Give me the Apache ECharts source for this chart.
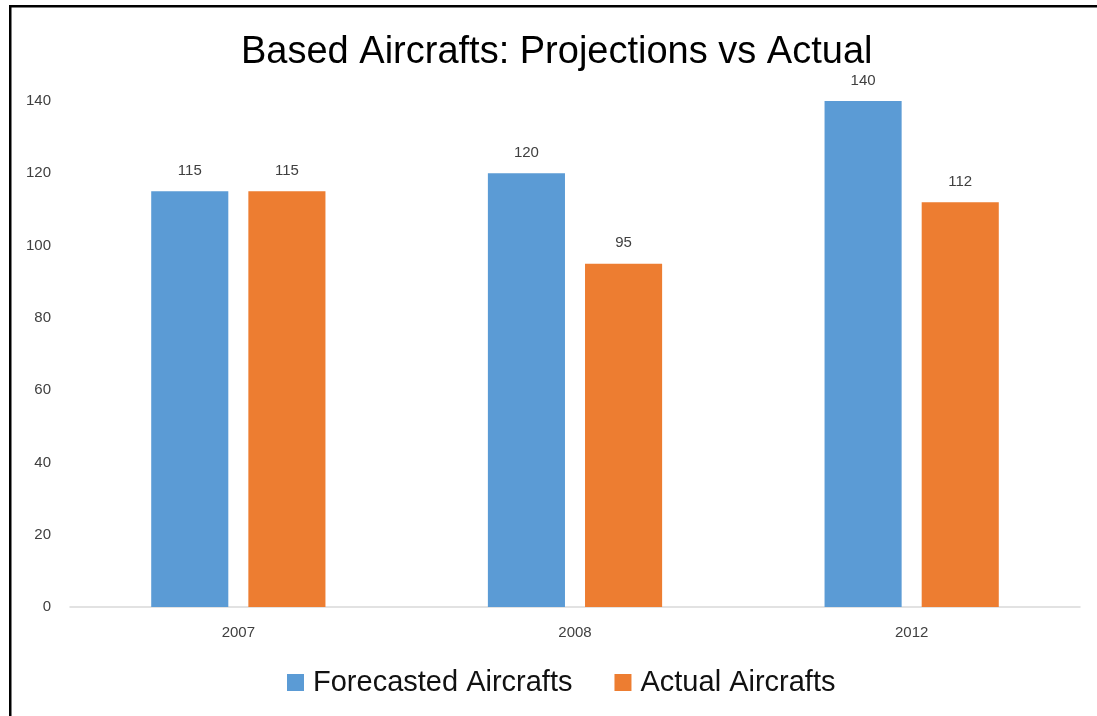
<!DOCTYPE html>
<html>
<head>
<meta charset="utf-8">
<script src="https://cdn.jsdelivr.net/npm/echarts@6/dist/echarts.min.js"></script>
<style>
html,body{margin:0;padding:0;background:#fff;}
#c{width:1097px;height:716px;}
</style>
</head>
<body>
<div id="c"></div>
<script>
var categories = ['2007', '2008', '2012'];
var forecasted = [115, 120, 140];
var actual = [115, 95, 112];
var yTicks = {min: 0, max: 140, interval: 20};

var chart = echarts.init(document.getElementById('c'), null, {renderer: 'canvas'});
var font = '"Liberation Sans", Arial, sans-serif';
chart.setOption({
  backgroundColor: '#ffffff',
  animation: false,
  graphic: [
    {type: 'rect', shape: {x: 9, y: 5, width: 1088, height: 2.5}, style: {fill: '#000'}},
    {type: 'rect', shape: {x: 9, y: 5, width: 2.5, height: 711}, style: {fill: '#000'}}
  ],
  title: {
    text: 'Based Aircrafts: Projections vs Actual',
    left: 236,
    top: 29,
    textStyle: {fontFamily: font, fontSize: 38, fontWeight: 'normal', color: '#000'}
  },
  legend: {
    bottom: 14,
    left: 282,
    itemWidth: 17,
    itemHeight: 17,
    itemGap: 42,
    icon: 'rect',
    textStyle: {fontFamily: font, fontSize: 29, color: '#111', padding: [0, 0, 0, 4]},
    data: ['Forecasted Aircrafts', 'Actual Aircrafts']
  },
  grid: {left: 70, right: 17, top: 101, bottom: 109, containLabel: false},
  xAxis: {
    type: 'category',
    data: categories,
    axisLine: {lineStyle: {color: '#d9d9d9', width: 1.5}},
    axisTick: {show: false},
    axisLabel: {fontFamily: font, fontSize: 15, color: '#404040', margin: 18}
  },
  yAxis: {
    type: 'value',
    min: yTicks.min,
    max: yTicks.max,
    interval: yTicks.interval,
    axisLine: {show: false},
    axisTick: {show: false},
    splitLine: {show: false},
    axisLabel: {fontFamily: font, fontSize: 15, color: '#404040', margin: 19}
  },
  series: [
    {
      name: 'Forecasted Aircrafts',
      type: 'bar',
      data: forecasted,
      barWidth: '22.9%',
      barGap: '26%',
      itemStyle: {color: '#5b9bd5'},
      label: {show: true, position: 'top', distance: 13, fontFamily: font, fontSize: 15, color: '#404040'}
    },
    {
      name: 'Actual Aircrafts',
      type: 'bar',
      data: actual,
      barWidth: '22.9%',
      barGap: '26%',
      itemStyle: {color: '#ed7d31'},
      label: {show: true, position: 'top', distance: 13, fontFamily: font, fontSize: 15, color: '#404040'}
    }
  ]
});
</script>
</body>
</html>
